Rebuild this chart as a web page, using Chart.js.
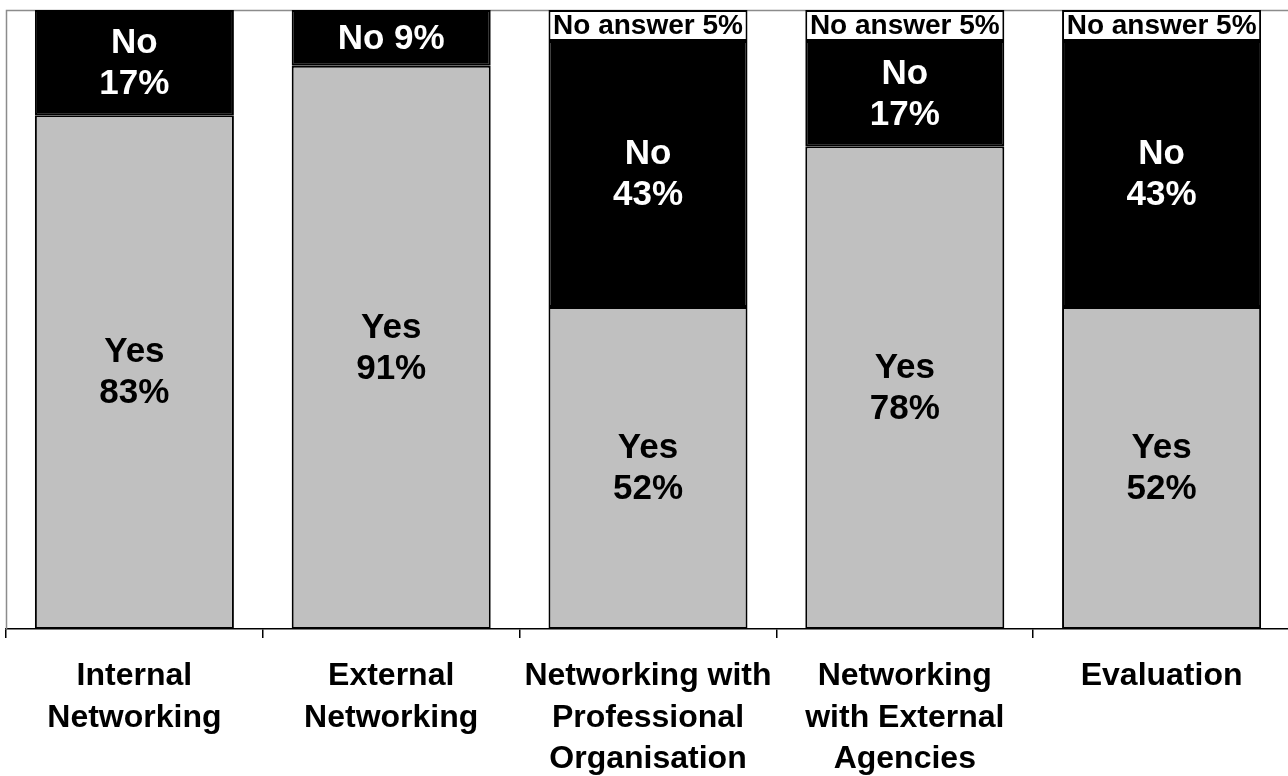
<!DOCTYPE html>
<html lang="en">
<head>
  <meta charset="UTF-8">
  <title>Networking e Evaluation</title>
  <style>
    html, body { margin: 0; padding: 0; background: #fff; overflow: hidden; }
    #grafico { display: block; }
  </style>
</head>
<body>
  <canvas id="grafico" width="1290" height="776"></canvas>

  <script src="https://cdn.jsdelivr.net/npm/chart.js"></script>
  <script>
    const categorias = [
      ['Internal', 'Networking'],
      ['External', 'Networking'],
      ['Networking with', 'Professional', 'Organisation'],
      ['Networking', 'with External', 'Agencies'],
      ['Evaluation']
    ];
    const valoresSim = [83, 91, 52, 78, 52];
    const valoresNao = [17, 9, 43, 17, 43];
    const valoresSemResposta = [0, 0, 5, 5, 5];

    const fonte = '"Liberation Sans", Arial, sans-serif';

    // texto de cada segmento, montado a partir do valor
    function textoSegmento(serie, v) {
      if (serie === 'Yes') return ['Yes', v + '%'];
      if (serie === 'No') return v < 10 ? ['No ' + v + '%'] : ['No', v + '%'];
      return ['No answer ' + v + '%'];
    }

    // moldura cinza do plot (topo e esquerda)
    const moldura = {
      id: 'moldura',
      beforeDatasetsDraw(chart) {
        const { ctx, chartArea: a } = chart;
        ctx.save();
        ctx.strokeStyle = '#8c8c8c';
        ctx.lineWidth = 1.5;
        ctx.beginPath();
        ctx.moveTo(a.left + 0.5, a.bottom);
        ctx.lineTo(a.left + 0.5, a.top + 0.5);
        ctx.lineTo(a.right, a.top + 0.5);
        ctx.stroke();
        ctx.restore();
      }
    };

    const rotulosBarras = {
      id: 'rotulosBarras',
      afterDatasetsDraw(chart) {
        const ctx = chart.ctx;
        ctx.save();
        ctx.textAlign = 'center';
        ctx.textBaseline = 'middle';
        chart.data.datasets.forEach((ds, i) => {
          const meta = chart.getDatasetMeta(i);
          meta.data.forEach((barra, j) => {
            const v = ds.data[j];
            if (!v) return;
            const linhas = textoSegmento(ds.label, v);
            const tamanho = ds.label === 'No answer' ? 28 : 35;
            const altLinha = 41;
            ctx.font = 'bold ' + tamanho + 'px ' + fonte;
            ctx.fillStyle = ds.label === 'No' ? '#ffffff' : '#000000';
            const yCentro = (barra.y + barra.base) / 2;
            const y0 = yCentro - (linhas.length - 1) * altLinha / 2;
            linhas.forEach((t, k) => ctx.fillText(t, barra.x, y0 + k * altLinha + 1));
          });
        });
        ctx.restore();
      }
    };

    const ctx = document.getElementById('grafico').getContext('2d');
    new Chart(ctx, {
      type: 'bar',
      data: {
        labels: categorias,
        datasets: [
          {
            label: 'Yes',
            data: valoresSim,
            backgroundColor: '#c0c0c0',
            borderColor: '#000000',
            borderWidth: 2,
            borderSkipped: false
          },
          {
            label: 'No',
            data: valoresNao,
            backgroundColor: '#000000',
            borderColor: '#000000',
            borderWidth: 2,
            borderSkipped: false
          },
          {
            label: 'No answer',
            data: valoresSemResposta,
            backgroundColor: '#ffffff',
            borderColor: '#000000',
            borderWidth: 2,
            borderSkipped: false
          }
        ]
      },
      options: {
        responsive: false,
        animation: false,
        barPercentage: 0.775,
        categoryPercentage: 1,
        layout: { padding: { left: 6, top: 10, right: 0, bottom: 0 } },
        plugins: {
          legend: { display: false },
          tooltip: { enabled: false }
        },
        scales: {
          x: {
            stacked: true,
            grid: {
              offset: true,
              drawOnChartArea: false,
              drawTicks: true,
              tickLength: 9,
              color: '#000000',
              lineWidth: 1.5
            },
            border: { color: '#000000', width: 1.5 },
            ticks: {
              color: '#000000',
              font: { family: fonte, size: 32, weight: 'bold', lineHeight: 1.29 },
              maxRotation: 0,
              minRotation: 0,
              autoSkip: false,
              padding: 18
            },
            afterFit(escala) { escala.height = 147; }
          },
          y: {
            stacked: true,
            display: false,
            min: 0,
            max: 100
          }
        }
      },
      plugins: [moldura, rotulosBarras]
    });
  </script>
</body>
</html>
